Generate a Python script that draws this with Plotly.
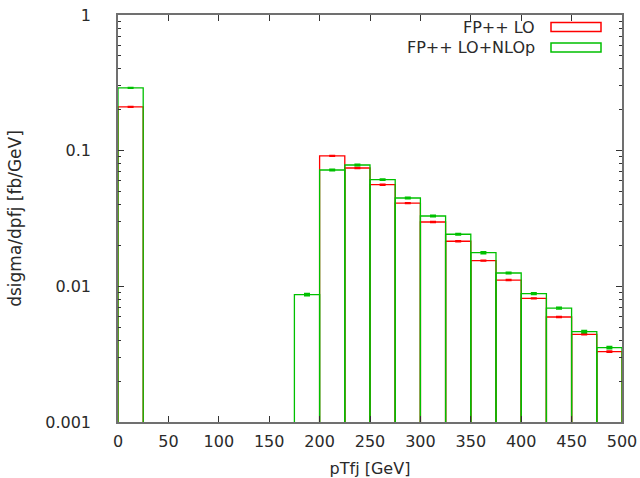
import plotly.graph_objects as go

# pTfj bins (GeV), lower edges, width 25
bin_lo = [0, 25, 50, 75, 100, 125, 150, 175, 200, 225,
          250, 275, 300, 325, 350, 375, 400, 425, 450, 475]
bin_width = 25

# dsigma/dpTfj [fb/GeV]; None = empty bin
lo = [0.210, None, None, None, None, None, None, None, 0.0914, 0.0745,
      0.0561, 0.0411, 0.0298, 0.0215, 0.01545, 0.01113, 0.00816, 0.00594, 0.00443, 0.00330]
lo_err = [0.0012, 0, 0, 0, 0, 0, 0, 0, 0.0006, 0.0005,
          0.0004, 0.0003, 0.0002, 0.00015, 0.0001, 0.00008, 0.00006, 0.00005, 0.00004, 0.00003]

lo_nlop = [0.290, None, None, None, None, None, None, 0.00869, 0.0720, 0.0784,
           0.0611, 0.0448, 0.0330, 0.0242, 0.0177, 0.01254, 0.00883, 0.00692, 0.00463, 0.00353]
lo_nlop_err = [0.0018, 0, 0, 0, 0, 0, 0, 0.00015, 0.0008, 0.0009,
               0.0007, 0.0005, 0.0004, 0.0003, 0.00028, 0.00018, 0.00012, 0.0001, 0.00009, 0.00007]

x_ticks = list(range(0, 501, 50))
y_ticks = [0.001, 0.01, 0.1, 1]
y_tick_text = ["0.001", "0.01", "0.1", "1"]

centers = [b + bin_width / 2 for b in bin_lo]

RED = "#ff0000"
GREEN = "#00c000"
TXT = "#2a2a2a"
FONT = "DejaVu Sans"

W, H = 640, 478
M_L, M_R, M_T, M_B = 118, 18, 15, 56
PLOT_W = W - M_L - M_R
PLOT_H = H - M_T - M_B


def hist_trace(vals, errs, color, name):
    xs, ys, es = [], [], []
    for c, v, e in zip(centers, vals, errs):
        if v is not None:
            xs.append(c)
            ys.append(v)
            es.append(e)
    return go.Bar(
        x=xs, y=ys, width=bin_width, name=name,
        marker=dict(color="rgba(0,0,0,0)", line=dict(color=color, width=1.3)),
        error_y=dict(type="data", array=es, color=color, thickness=1.5, width=3),
        showlegend=False,
    )


fig = go.Figure()
fig.add_trace(hist_trace(lo, lo_err, RED, "FP++ LO"))
fig.add_trace(hist_trace(lo_nlop, lo_nlop_err, GREEN, "FP++ LO+NLOp"))

axis_common = dict(
    showline=True, linecolor="#707070", linewidth=1.5, mirror="allticks",
    ticks="inside", ticklen=6, tickcolor="#333333", tickwidth=1,
    showgrid=False, zeroline=False, automargin=False,
    tickfont=dict(family=FONT, size=16, color=TXT),
)

fig.update_xaxes(
    range=[0, 500], tickvals=x_ticks, ticklabelstandoff=4,
    title=dict(text="pTfj [GeV]", font=dict(family=FONT, size=16, color=TXT), standoff=16),
    **axis_common,
)
fig.update_yaxes(
    type="log", range=[-3, 0], tickvals=y_ticks, ticktext=y_tick_text,
    ticklabelstandoff=22,
    minor=dict(ticks="inside", ticklen=3, tickcolor="#333333", showgrid=False,
               tickvals=[m * 10 ** d for d in (-3, -2, -1) for m in range(2, 10)]),
    title=dict(text="dsigma/dpfj [fb/GeV]", font=dict(family=FONT, size=17, color=TXT), standoff=19),
    **axis_common,
)


def px_to_paper(px, py):
    # pixel position in the page -> paper coordinates of the plotting area
    return (px - M_L) / PLOT_W, (H - M_B - py) / PLOT_H


# key: label text on the left, outlined sample box on the right
legend_rows = [("FP++ LO", RED, 27.0), ("FP++ LO+NLOp", GREEN, 47.5)]
for label, color, yc in legend_rows:
    tx, ty = px_to_paper(537, yc)
    fig.add_annotation(
        x=tx, y=ty, xref="paper", yref="paper",
        xanchor="right", yanchor="middle", showarrow=False,
        text=label, font=dict(family=FONT, size=16, color=TXT),
    )
    x0, y0 = px_to_paper(551, yc - 4.5)
    x1, y1 = px_to_paper(601, yc + 4.5)
    fig.add_shape(
        type="rect", xref="paper", yref="paper",
        x0=x0, x1=x1, y0=y0, y1=y1,
        line=dict(color=color, width=1.5), fillcolor="rgba(0,0,0,0)",
    )

fig.update_layout(
    width=W, height=H, barmode="overlay",
    plot_bgcolor="white", paper_bgcolor="white",
    margin=dict(l=M_L, r=M_R, t=M_T, b=M_B),
    font=dict(family=FONT, color=TXT),
)

fig.write_html("out.html")
